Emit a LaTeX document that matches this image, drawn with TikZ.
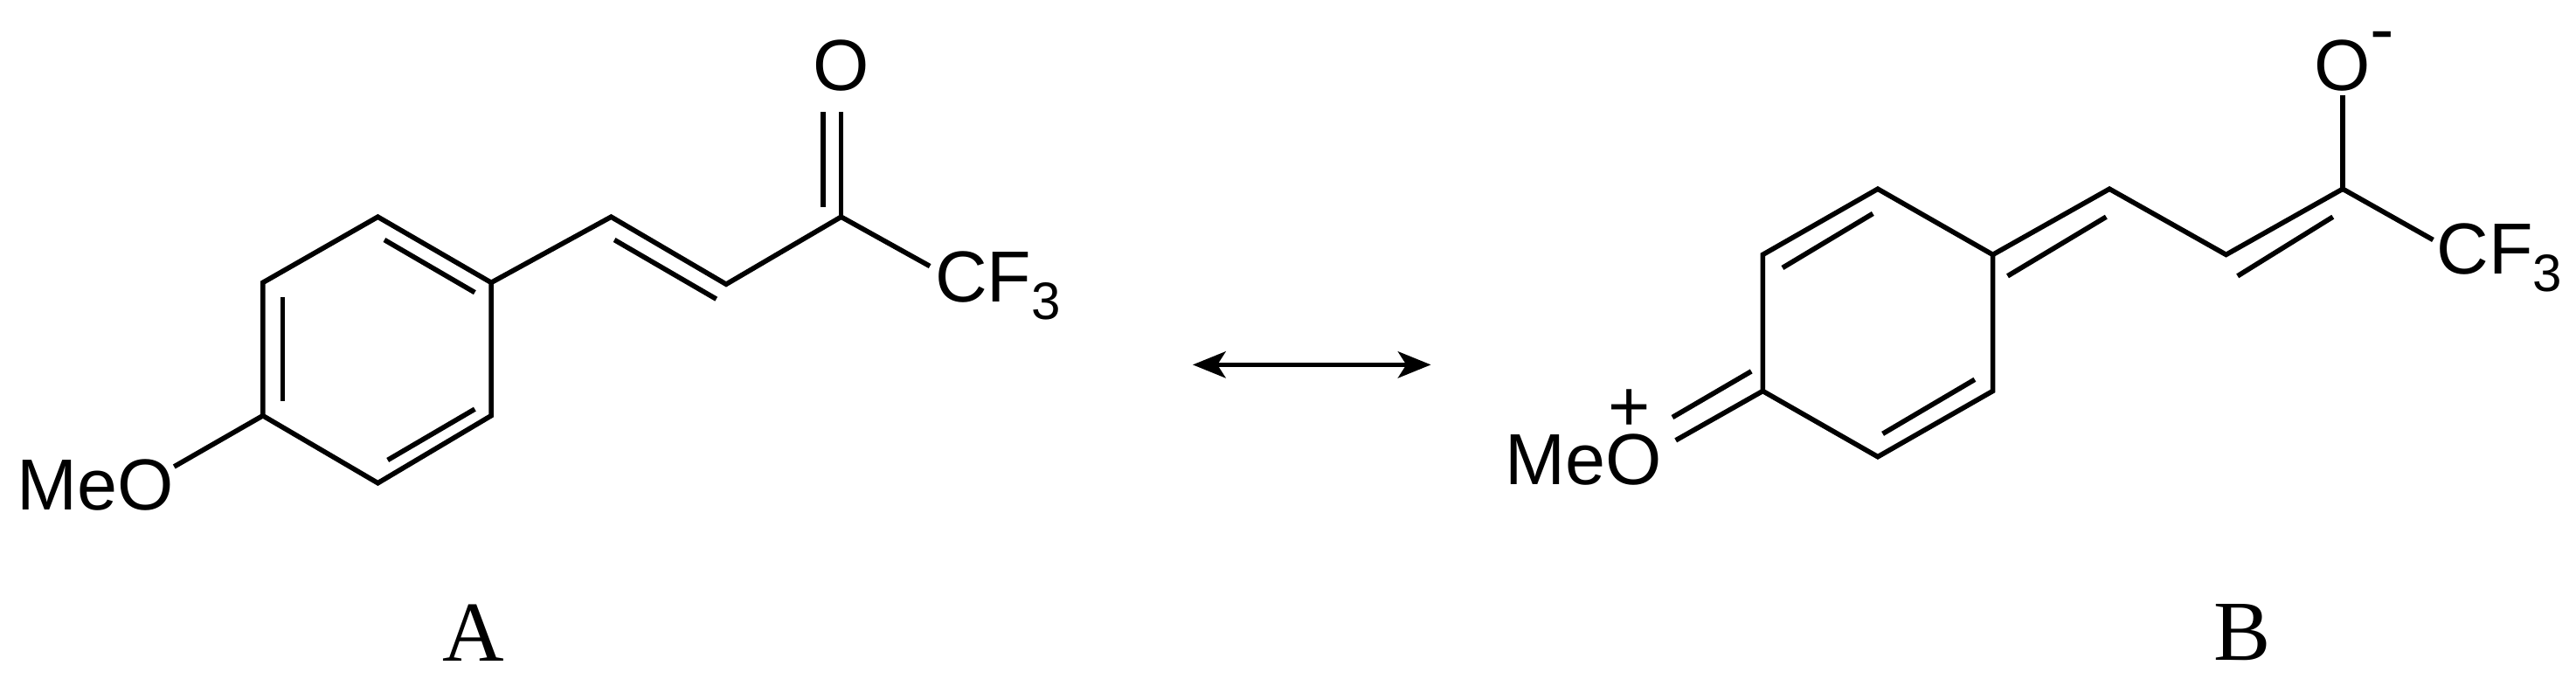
\documentclass[tikz,border=0pt]{standalone}
\usepackage{fontspec}
\setmainfont{Liberation Serif}
\newfontfamily\arial{Liberation Sans}
\usetikzlibrary{arrows.meta}
\begin{document}
\begin{tikzpicture}[x=1pt,y=-1pt,
  bond/.style={line width=3pt},
  atom/.style={font=\arial\fontsize{44}{44}\selectfont,inner sep=1pt},
  lab/.style={font=\fontsize{52}{52}\selectfont}]
\useasboundingbox (0,0) rectangle (1568,417.5);
% Molecule A
\coordinate (a1) at (230,132); \coordinate (a2) at (299,172); \coordinate (a3) at (299,253);
\coordinate (a4) at (230,294); \coordinate (a5) at (160,253); \coordinate (a6) at (160,172);
\coordinate (c1) at (372,132); \coordinate (c2) at (442,173); \coordinate (c3) at (512,132);
\coordinate (oendA) at (512,68); \coordinate (cfendA) at (566,162); \coordinate (meoendA) at (106,284);
\node[atom] (meoA) at (58,295) {MeO};
\node[atom] (oA) at (512,40) {O};
\node[atom,anchor=west] (cfA) at (568,174) {CF\raisebox{-0.45ex}{\fontsize{32}{32}\selectfont 3}};
\draw[bond,line join=miter] (a1)--(a2)--(a3)--(a4)--(a5)--(a6)--cycle;
\draw[bond] (234,146) -- (289,178);
\draw[bond] (172,181) -- (172,244);
\draw[bond] (236,280) -- (289,249);
\draw[bond,line join=miter] (a2)--(c1)--(c2)--(c3);
\draw[bond] (374,146) -- (436,182);
\draw[bond] (c3) -- (cfendA);
\draw[bond] (a5) -- (meoendA);
\draw[bond] (c3) -- (oendA);
\draw[bond] (501,126) -- (501,68);
\node[lab] (labA) at (288,385) {A};
% arrow
\coordinate (r1) at (726,222); \coordinate (r2) at (871,222);
\draw[bond,{Stealth[length=20pt,width=16pt,inset=5pt]}-{Stealth[length=20pt,width=16pt,inset=5pt]}] (r1) -- (r2);
% Molecule B
\coordinate (b1) at (1143,115); \coordinate (b2) at (1213,155); \coordinate (b3) at (1213,238);
\coordinate (b4) at (1143,278); \coordinate (b5) at (1073,238); \coordinate (b6) at (1073,155);
\coordinate (d1) at (1284,115); \coordinate (d2) at (1355,155); \coordinate (d3) at (1426,115);
\coordinate (oendB) at (1426,58); \coordinate (cfendB) at (1481,146); \coordinate (meoendB) at (1020,268);
\node[atom] (meoB) at (964,280) {MeO};
\node[atom] (plusB) at (992,250) {+};
\node[atom] (oB) at (1426,40) {O};
\node[atom] (minusB) at (1450,26) {-};
\node[atom,anchor=west] (cfB) at (1482,157) {CF\raisebox{-0.45ex}{\fontsize{32}{32}\selectfont 3}};
\draw[bond,line join=miter] (b1)--(b2)--(b3)--(b4)--(b5)--(b6)--cycle;
\draw[bond] (1085,163) -- (1140,130);
\draw[bond] (1146,264) -- (1202,231);
\draw[bond,line join=miter] (b2)--(d1)--(d2)--(d3);
\draw[bond] (1222,168) -- (1282,132);
\draw[bond] (1362,168) -- (1420,132);
\draw[bond] (d3) -- (cfendB);
\draw[bond] (d3) -- (oendB);
\draw[bond] (b5) -- (meoendB);
\draw[bond] (1066,226) -- (1018,254);
\node[lab] (labB) at (1365,385) {B};
\end{tikzpicture}
\end{document}
